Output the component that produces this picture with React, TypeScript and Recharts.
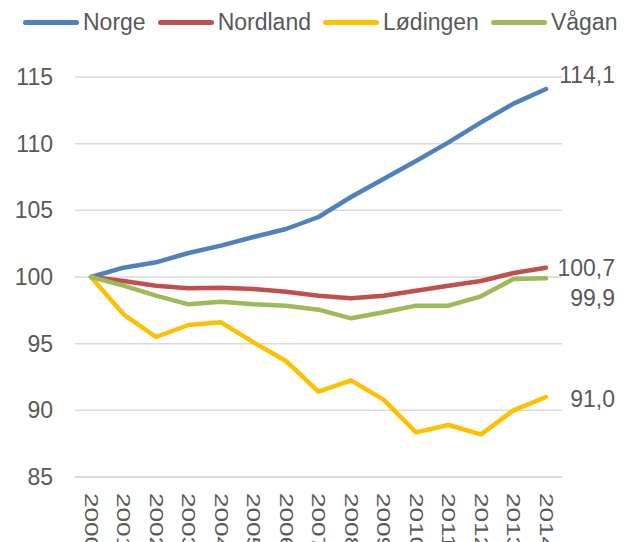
import { LineChart, Line, XAxis, YAxis, CartesianGrid, LabelList } from 'recharts';

const years = ['2000', '2001', '2002', '2003', '2004', '2005', '2006', '2007', '2008', '2009', '2010', '2011', '2012', '2013', '2014'];
const norge = [100, 100.7, 101.1, 101.8, 102.35, 103.0, 103.6, 104.5, 106.0, 107.35, 108.7, 110.1, 111.6, 113.0, 114.1];
const nordland = [100, 99.7, 99.35, 99.15, 99.2, 99.1, 98.9, 98.6, 98.4, 98.6, 98.97, 99.35, 99.7, 100.3, 100.7];
const lodingen = [100, 97.2, 95.5, 96.4, 96.6, 95.1, 93.7, 91.4, 92.25, 90.8, 88.35, 88.9, 88.2, 90.0, 91.0];
const vagan = [100, 99.35, 98.6, 97.95, 98.15, 97.95, 97.85, 97.55, 96.9, 97.35, 97.85, 97.85, 98.55, 99.85, 99.9];
const yTicks = [85, 90, 95, 100, 105, 110, 115];

const series = [
  { key: 'norge', name: 'Norge', color: '#4f81bd', values: norge, dy: -14 },
  { key: 'nordland', name: 'Nordland', color: '#c0504d', values: nordland, dy: 0 },
  { key: 'lodingen', name: 'Lødingen', color: '#ffc000', values: lodingen, dy: 2 },
  { key: 'vagan', name: 'Vågan', color: '#9bbb59', values: vagan, dy: 20 },
];

const data = years.map((year, i) => {
  const row: Record<string, string | number> = { year };
  series.forEach((s) => {
    row[s.key] = s.values[i];
  });
  return row;
});

const textColor = '#595959';
const font = '"Liberation Sans", Arial, sans-serif';

// year labels run top-down, glyphs stretched along the reading direction like the original
function YearTick({ x, y, payload }: any) {
  const ty = y + 8;
  return (
    <text x={0} y={0} dy="0.35em" transform={`translate(${x} ${ty}) rotate(90) scale(1.45 1)`} textAnchor="start"
      fill={textColor} fontSize={18} fontFamily={font}>
      {payload.value}
    </text>
  );
}

function EndLabel(offset: number) {
  return function Label({ y, value, index }: any) {
    if (index !== years.length - 1) return null;
    return (
      <text x={615} y={y + offset} dy="0.35em" textAnchor="end" fill={textColor} fontSize={23} fontFamily={font}>
        {Number(value).toFixed(1).replace('.', ',')}
      </text>
    );
  };
}

function ChartLegend() {
  return (
    <div style={{ position: 'absolute', left: 23, top: 9, display: 'flex', alignItems: 'center',
      fontFamily: font, fontSize: 23, lineHeight: '27px', color: textColor }}>
      {series.map((s) => (
        <div key={s.key} style={{ display: 'flex', alignItems: 'center', marginRight: 12 }}>
          <div style={{ width: 56, height: 5, borderRadius: 3, background: s.color, marginRight: 4 }} />
          <span>{s.name}</span>
        </div>
      ))}
    </div>
  );
}

export default function App() {
  return (
    <div style={{ position: 'absolute', left: 0, top: 0, width: 629, height: 542, background: '#fff', overflow: 'hidden' }}>
      <LineChart width={629} height={542} data={data} margin={{ top: 77, right: 67, bottom: 0, left: 0 }}>
        <CartesianGrid vertical={false} stroke="#d9d9d9" strokeWidth={1.5} />
        <XAxis dataKey="year" axisLine={{ stroke: '#d9d9d9', strokeWidth: 1.5 }} tickLine={false} interval={0}
          padding={{ left: 16, right: 16 }} tick={<YearTick />} height={65} />
        <YAxis domain={[85, 115]} ticks={yTicks} axisLine={false} tickLine={false} tickSize={0} tickMargin={22}
          width={75} tick={{ fill: textColor, fontSize: 23, fontFamily: font }} />
        {series.map((s) => (
          <Line key={s.key} type="linear" dataKey={s.key} name={s.name} stroke={s.color} strokeWidth={4.5}
            strokeLinecap="round" strokeLinejoin="round" dot={false} isAnimationActive={false}>
            <LabelList dataKey={s.key} content={EndLabel(s.dy)} />
          </Line>
        ))}
      </LineChart>
      <ChartLegend />
    </div>
  );
}
